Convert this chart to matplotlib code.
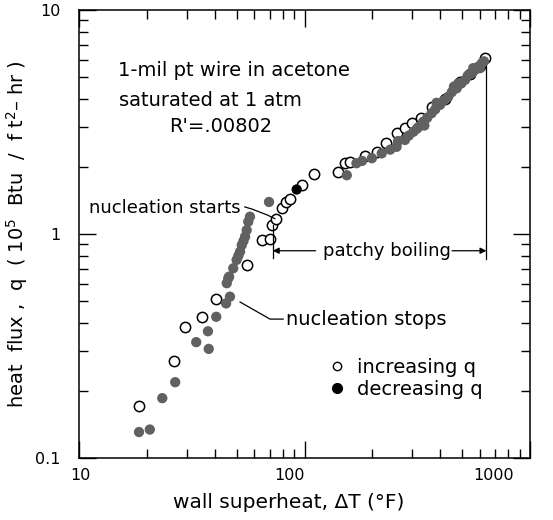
import matplotlib
matplotlib.use("Agg")
import matplotlib.pyplot as plt
from matplotlib.lines import Line2D

# increasing heat flux (open circles): wall superheat (F), heat flux (1e5 Btu/ft2-hr)
inc_dt = [18.4, 26.3, 29.4, 35.1, 40.4, 55.4, 64.6, 70.3, 71.5, 74.7, 79.2, 82.8,
          86.3, 97.2, 110, 141, 151, 159, 185, 209, 230, 256, 279, 299, 330, 366,
          420, 489, 540, 600, 631]
inc_q = [0.171, 0.270, 0.386, 0.427, 0.513, 0.727, 0.94, 0.95, 1.10, 1.17, 1.30, 1.39,
         1.44, 1.65, 1.85, 1.90, 2.07, 2.09, 2.23, 2.33, 2.56, 2.82, 2.96, 3.12, 3.30, 3.70,
         4.00, 4.79, 5.20, 5.60, 6.09]

# decreasing heat flux (filled circles)
dec_dt = [18.45, 20.6, 23.4, 26.7, 33.1, 37.6, 37.3, 40.6, 44.9, 46.7, 45.2, 45.9,
          46.3, 48.3, 50.0, 50.9, 51.8, 52.7, 53.6, 54.5, 55.4, 56.3, 57.3, 69.6,
          154, 170, 180, 199, 220, 240, 256, 260, 279, 290, 304, 315, 320, 336, 340,
          350, 366, 380, 385, 399, 415, 434, 450, 460, 473, 480, 495, 515, 530, 551,
          560, 570, 590, 600, 611, 625]
dec_q = [0.1306, 0.134, 0.185, 0.218, 0.329, 0.307, 0.368, 0.427, 0.490, 0.525, 0.603, 0.634,
         0.645, 0.703, 0.766, 0.80, 0.835, 0.893, 0.93, 0.973, 1.04, 1.135, 1.195, 1.39,
         1.83, 2.07, 2.12, 2.18, 2.29, 2.38, 2.45, 2.60, 2.63, 2.75, 2.86, 2.95, 3.00, 3.17, 3.05,
         3.30, 3.46, 3.60, 3.85, 3.77, 3.95, 4.10, 4.30, 4.55, 4.47, 4.70, 4.70, 4.87, 5.10, 5.22,
         5.50, 5.40, 5.58, 5.50, 5.78, 5.90]

# one darker decreasing point
dark_dt = [92.3]
dark_q = [1.58]

x_ticks = [10, 100, 1000]
x_tick_labels = ["10", "100", "1000"]
y_ticks = [0.1, 1, 10]
y_tick_labels = ["0.1", "1", "10"]

patchy_lo = 72.3
patchy_hi = 641


def main() -> None:
    fig = plt.figure(figsize=(5.53, 5.2), dpi=100)
    ax = fig.add_axes([0.1429, 0.1192, 0.8155, 0.8616])
    ax.set_xscale("log")
    ax.set_yscale("log")
    ax.set_xlim(10, 1000)
    ax.set_ylim(0.1, 10)

    ax.scatter(inc_dt, inc_q, s=55, facecolors="white", edgecolors="black",
               linewidths=1.1, zorder=2)
    ax.scatter(dec_dt, dec_q, s=55, color="#616161", edgecolors="none", zorder=3)
    ax.scatter(dark_dt, dark_q, s=55, color="black", edgecolors="none", zorder=4)

    for s in ax.spines.values():
        s.set_linewidth(1.1)
    ax.tick_params(which="both", direction="in", top=True, right=True,
                   labelsize=11.5, width=1.0)
    ax.tick_params(axis="y", pad=13)
    ax.tick_params(which="major", length=12)
    ax.tick_params(which="minor", length=6.5)
    ax.set_xticks(x_ticks)
    ax.set_xticklabels([])
    ax.set_yticks(y_ticks)
    ax.set_yticklabels(y_tick_labels)
    ax.tick_params(axis="y", which="minor", labelleft=False)
    ax.tick_params(axis="x", which="minor", labelbottom=False)

    # the hand-lettered x labels sit a bit left of their ticks
    for t, lab, dx in zip(x_ticks, x_tick_labels, [1, -11, -26]):
        ax.annotate(lab, xy=(t, 0), xycoords=("data", "axes fraction"),
                    xytext=(dx, -7), textcoords="offset points",
                    ha="center", va="top", fontsize=11.5)

    ax.set_xlabel("wall superheat, ΔT (°F)", fontsize=14.5, labelpad=22, x=0.466)
    ax.set_ylabel("heat  flux ,  q  ( 10$^5$  Btu  /  f t$^2$– hr )", fontsize=14,
                  labelpad=4)

    ax.text(0.086, 0.864, "1-mil pt wire in acetone", transform=ax.transAxes,
            fontsize=14, va="center", ha="left")
    ax.text(0.089, 0.799, "saturated at 1 atm", transform=ax.transAxes,
            fontsize=14, va="center", ha="left")
    ax.text(0.315, 0.739, "R'=.00802", transform=ax.transAxes,
            fontsize=14, va="center", ha="center")

    # nucleation starts
    ax.annotate("nucleation starts", xy=(74, 1.17), xytext=(52, 1.30),
                fontsize=13, ha="right", va="center",
                arrowprops=dict(arrowstyle="-", color="black", lw=0.9,
                                connectionstyle="arc3,rad=-0.2",
                                shrinkA=1, shrinkB=0))
    # nucleation stops
    ax.plot([51.8, 70.3, 80.4], [0.497, 0.417, 0.417], color="black", lw=0.9)
    ax.text(83, 0.417, "nucleation stops", fontsize=14, ha="left", va="center")

    # patchy boiling bracket
    y_arrow = 0.842
    ax.plot([patchy_lo, patchy_lo], [0.785, 1.10], color="black", lw=0.9)
    ax.plot([patchy_hi, patchy_hi], [0.775, 6.0], color="black", lw=0.9)
    ax.annotate("", xy=(patchy_lo, y_arrow), xytext=(112, y_arrow),
                arrowprops=dict(arrowstyle="-|>", color="black", lw=0.9,
                                mutation_scale=9, shrinkA=0, shrinkB=0))
    ax.annotate("", xy=(patchy_hi, y_arrow), xytext=(451, y_arrow),
                arrowprops=dict(arrowstyle="-|>", color="black", lw=0.9,
                                mutation_scale=9, shrinkA=0, shrinkB=0))
    ax.text(231, y_arrow, "patchy boiling", fontsize=13, ha="center", va="center")

    handles = [
        Line2D([], [], ls="none", marker="o", ms=6, mfc="white", mec="black", mew=1.0),
        Line2D([], [], ls="none", marker="o", ms=7, mfc="black", mec="black"),
    ]
    ax.legend(handles, ["increasing q", "decreasing q"], loc="center left",
              bbox_to_anchor=(0.53, 0.177), frameon=False, fontsize=14,
              handlelength=1.0, handletextpad=0.5, labelspacing=0.15, borderpad=0)

    fig.savefig("out.png", dpi=100)
    plt.close(fig)


if __name__ == "__main__":
    main()
